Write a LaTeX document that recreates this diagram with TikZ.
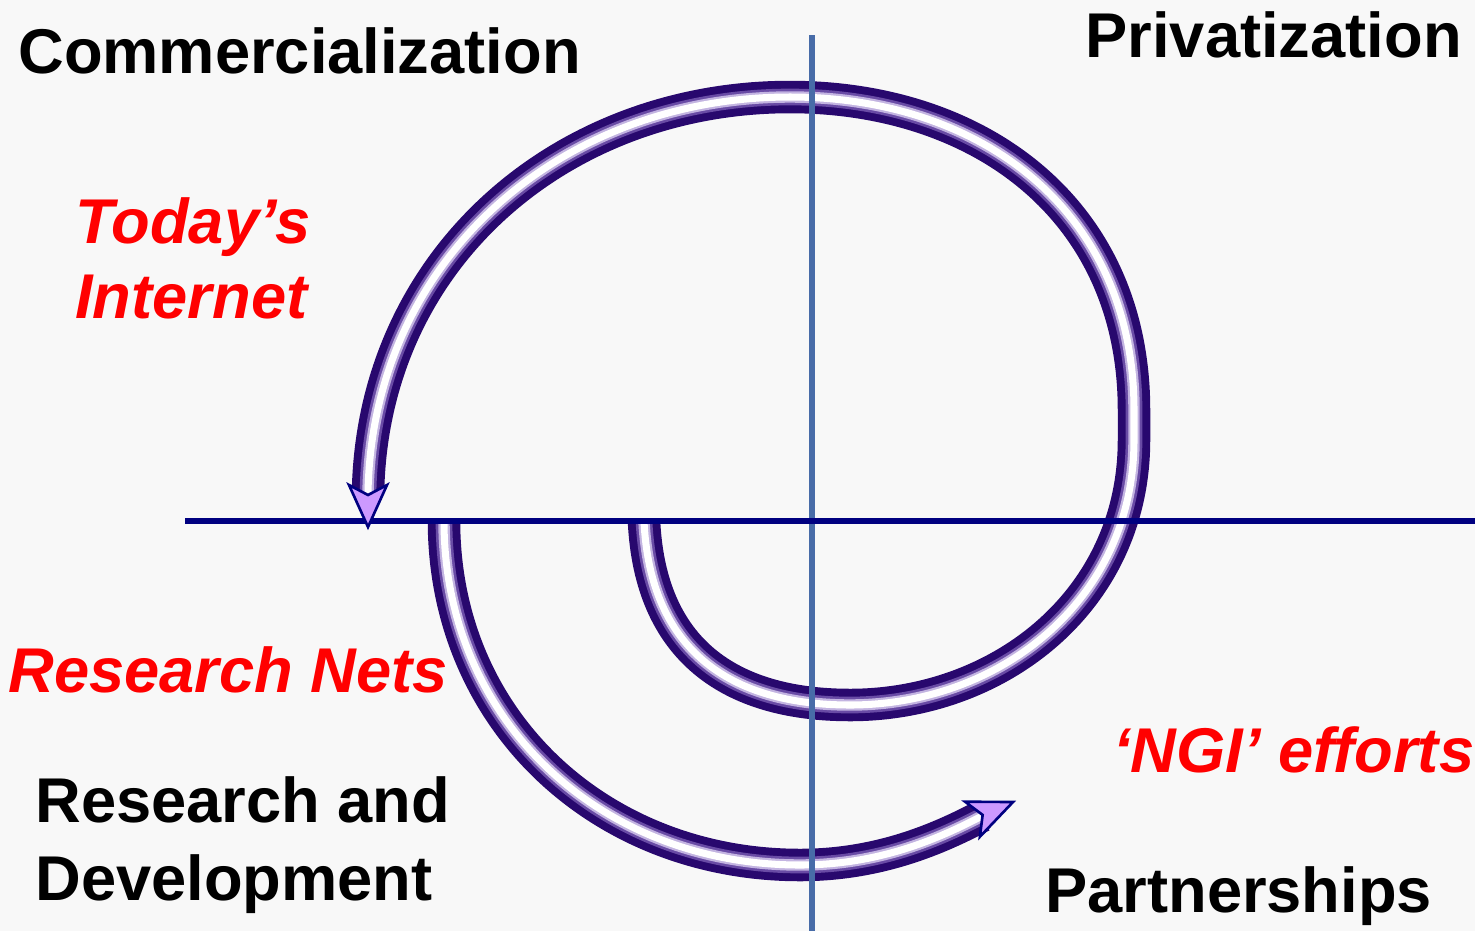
\documentclass[tikz,border=0pt]{standalone}
\usepackage{fontspec}
\setmainfont{Liberation Sans}
\usetikzlibrary{positioning}
\definecolor{paper}{RGB}{248,248,248}
\definecolor{tubedark}{RGB}{40,8,110}
\definecolor{tubemid}{RGB}{105,75,165}
\definecolor{tubelight}{RGB}{195,180,225}
\definecolor{axisnavy}{RGB}{0,0,128}
\definecolor{axisblue}{RGB}{72,108,168}
\definecolor{headfill}{RGB}{204,153,255}
\tikzset{
  phase/.style={
    inner sep=0pt,
    anchor=base west,
    align=left,
    font=\fontsize{36pt}{44pt}\selectfont\bfseries
  },
  era/.style={
    phase,
    text=red,
    font=\fontsize{36pt}{42.5pt}\selectfont\bfseries\itshape
  },
  tube/.style={
    draw=tubedark, line width=18.5pt,
    postaction={draw=tubemid, line width=9.5pt,
      postaction={draw=tubelight, line width=6.5pt,
        postaction={draw=white, line width=4pt}}}
  },
  head/.style={draw=axisnavy, fill=headfill, line width=1.5pt, line join=miter},
  axis/.style={line width=3pt}
}
\begin{document}
\begin{tikzpicture}[x=0.02cm, y=-0.02cm]
  \fill [paper] (0,0) rectangle (1475,931);
  \useasboundingbox (0,0) rectangle (1475,931);
  % labels
  \node (commerce) [phase] at (18,73) {Commercialization};
  \node (private) [phase, anchor=base east] at (1462,57) {Privatization};
  \node (research) [phase] at (35,900) {Research and\\Development};
  \node (partner) [phase] at (1045,912) {Partnerships};
  \node (today) [era] at (75,318) {Today’s\\Internet};
  \node (nets) [era] at (8,692) {Research Nets};
  \node (ngi) [era] at (1113,772) {‘NGI’ efforts};
  % spiral points
  \coordinate (bigstart) at (644,521);
  \coordinate (bigbottom) at (850,705);
  \coordinate (bigright) at (1134,440);
  \coordinate (bigupper) at (1134,410);
  \coordinate (bigtop) at (790,97);
  \coordinate (bigend) at (368,493);
  \coordinate (bigtip) at (368,527);
  \coordinate (smallstart) at (444,521);
  \coordinate (smallbottom) at (800,865);
  \coordinate (smallend) at (982,816);
  \coordinate (smalltip) at (1013,802);
  % spirals
  \path [tube] (bigstart) .. controls (650,650) and (730,705) .. (bigbottom)
    .. controls (1000,705) and (1134,600) .. (bigright) -- (bigupper)
    .. controls (1134,210) and (980,97) .. (bigtop)
    .. controls (560,97) and (372,260) .. (bigend);
  \path [tube] (smallstart) .. controls (444,720) and (600,865) .. (smallbottom)
    .. controls (880,865) and (940,838) .. (smallend);
  % axes
  \coordinate (vtop) at (812,35);
  \coordinate (vbot) at (812,931);
  \coordinate (hleft) at (185,521);
  \coordinate (hright) at (1475,521);
  \draw [axis, axisblue] (vtop) -- (vbot);
  \draw [axis, axisnavy] (hleft) -- (hright);
  % arrow heads
  \draw [head, shift={(bigtip)}, rotate=-90]
    (0,0) -- (-42,19) -- (-32,0) -- (-42,-19) -- cycle;
  \draw [head, shift={(smalltip)}, rotate=23]
    (0,0) -- (-44,19) -- (-33,0) -- (-44,-19) -- cycle;
\end{tikzpicture}
\end{document}
